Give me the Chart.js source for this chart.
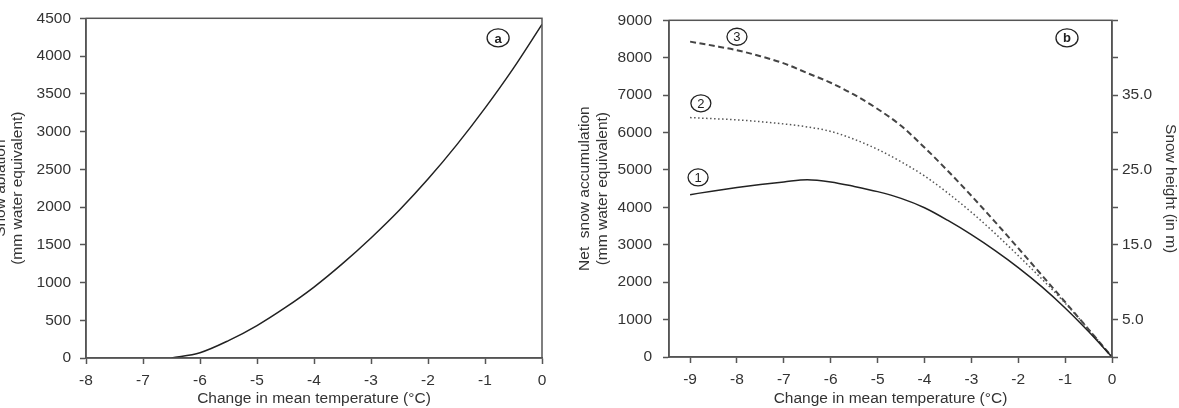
<!DOCTYPE html>
<html>
<head>
<meta charset="utf-8">
<title>Snow ablation and net snow accumulation</title>
<style>
    body { margin: 0; background: #fff; width: 1179px; height: 408px; overflow: hidden; position: relative; }
    #chartA { position: absolute; left: -8px; top: 0; }
    #chartB { position: absolute; left: 560px; top: 0; }
</style>
</head>
<body>
    <canvas id="chartA" width="568" height="408"></canvas>
    <canvas id="chartB" width="619" height="408"></canvas>

    <script src="https://cdn.jsdelivr.net/npm/chart.js@4.4.0/dist/chart.umd.min.js"></script>
    <script>
        // panel a - snow ablation
        const tempA = [-6.5, -6, -5.5, -5, -4.5, -4, -3.5, -3, -2.5, -2, -1.5, -1, -0.5, 0];
        const ablation = [0, 70, 230, 430, 670, 940, 1250, 1590, 1960, 2370, 2820, 3310, 3840, 4420];
        const xTicksA = [-8, -7, -6, -5, -4, -3, -2, -1, 0];

        // panel b - net snow accumulation, three cases
        const tempB = [-9, -8.5, -8, -7.5, -7, -6.5, -6, -5.5, -5, -4.5, -4, -3.5, -3, -2.5, -2, -1.5, -1, -0.5, 0];
        const accum1 = [4340, 4440, 4530, 4610, 4680, 4740, 4680, 4560, 4420, 4240, 3990, 3650, 3270, 2850, 2390, 1880, 1310, 680, 0];
        const accum2 = [6400, 6370, 6340, 6290, 6230, 6150, 6030, 5820, 5550, 5220, 4840, 4380, 3870, 3310, 2710, 2090, 1440, 740, 0];
        const accum3 = [8430, 8320, 8200, 8040, 7850, 7590, 7330, 7010, 6630, 6180, 5600, 4970, 4310, 3620, 2910, 2190, 1470, 740, 0];
        const xTicksB = [-9, -8, -7, -6, -5, -4, -3, -2, -1, 0];
        const heightTicks = [0, 5, 10, 15, 20, 25, 30, 35, 40, 45];
        const heightLabels = [5, 15, 25, 35];

        // circled markers: [x, y, text]
        const markersA = [[-0.77, 4240, 'a']];
        const markersB = [[-8.0, 8560, '3'], [-8.77, 6780, '2'], [-8.83, 4800, '1'], [-0.96, 8530, 'b']];

        const FONT = "'Liberation Sans', Arial, sans-serif";
        const GREY = '#555';
        const TXT = '#333';
        const FS = 15.5;

        function pts(xs, ys) {
            return xs.map((x, i) => ({ x: x, y: ys[i] }));
        }

        // box around the plot area
        const frame = {
            id: 'frame',
            afterDraw(chart) {
                const { ctx, chartArea: a } = chart;
                ctx.save();
                ctx.strokeStyle = GREY;
                ctx.lineWidth = 1.5;
                ctx.strokeRect(a.left, a.top, a.right - a.left, a.bottom - a.top);
                ctx.restore();
            }
        };

        const circleLabels = {
            id: 'circleLabels',
            afterDatasetsDraw(chart, args, opts) {
                const { ctx, scales } = chart;
                ctx.save();
                opts.items.forEach(m => {
                    const px = scales.x.getPixelForValue(m[0]);
                    const py = scales.y.getPixelForValue(m[1]);
                    const letter = isNaN(Number(m[2]));
                    ctx.beginPath();
                    ctx.ellipse(px, py, letter ? 11 : 10, letter ? 9 : 8.5, 0, 0, Math.PI * 2);
                    ctx.lineWidth = 1.3;
                    ctx.strokeStyle = '#222';
                    ctx.stroke();
                    ctx.fillStyle = '#222';
                    ctx.font = (letter ? 'bold 13px ' : '13px ') + FONT;
                    ctx.textAlign = 'center';
                    ctx.textBaseline = 'middle';
                    ctx.fillText(m[2], px, py + 1);
                });
                ctx.restore();
            }
        };

        function xAxis(min, max, ticks, h) {
            return {
                type: 'linear', min: min, max: max,
                afterBuildTicks: s => { s.ticks = ticks.map(v => ({ value: v })); },
                afterFit: s => { s.height = h; },
                border: { color: GREY, width: 1.5 },
                grid: { drawOnChartArea: false, drawTicks: true, tickLength: 6, tickColor: GREY, tickWidth: 1.5 },
                ticks: { color: TXT, padding: 7, maxRotation: 0, font: { family: FONT, size: FS }, callback: v => String(v) },
                title: {
                    display: true, text: 'Change in mean temperature (°C)', color: TXT,
                    padding: { top: 0, bottom: 0 }, font: { family: FONT, size: FS, lineHeight: 1.2 }
                }
            };
        }

        function yAxis(max, step, w, titleText, pad, tickPad) {
            return {
                type: 'linear', position: 'left', min: 0, max: max,
                afterFit: s => { s.width = w; },
                border: { color: GREY, width: 1.5 },
                grid: { drawOnChartArea: false, drawTicks: true, tickLength: 6, tickColor: GREY, tickWidth: 1.5 },
                ticks: { stepSize: step, color: TXT, padding: tickPad, font: { family: FONT, size: FS }, callback: v => String(v) },
                title: {
                    display: true, text: titleText, color: TXT,
                    padding: { top: pad, bottom: 0 }, font: { family: FONT, size: FS, lineHeight: 1.12 }
                }
            };
        }

        new Chart(document.getElementById('chartA').getContext('2d'), {
            type: 'line',
            data: {
                datasets: [{
                    data: pts(tempA, ablation),
                    borderColor: '#222', borderWidth: 1.5,
                    pointRadius: 0, cubicInterpolationMode: 'monotone', fill: false
                }]
            },
            options: {
                responsive: false, animation: false, devicePixelRatio: 1,
                layout: { padding: { left: 0, right: 18, top: 13, bottom: 0 } },
                scales: {
                    x: xAxis(-8, 0, xTicksA, 50),
                    y: yAxis(4500, 500, 94, ['Snow ablation', '(mm water equivalent)'], 0, 9)
                },
                plugins: {
                    legend: { display: false },
                    tooltip: { enabled: false },
                    circleLabels: { items: markersA }
                }
            },
            plugins: [frame, circleLabels]
        });

        new Chart(document.getElementById('chartB').getContext('2d'), {
            type: 'line',
            data: {
                datasets: [{
                    label: '1', data: pts(tempB, accum1),
                    borderColor: '#222', borderWidth: 1.5,
                    pointRadius: 0, cubicInterpolationMode: 'monotone', fill: false
                }, {
                    label: '2', data: pts(tempB, accum2),
                    borderColor: '#555', borderWidth: 1.5, borderDash: [1.5, 2.5],
                    pointRadius: 0, cubicInterpolationMode: 'monotone', fill: false
                }, {
                    label: '3', data: pts(tempB, accum3),
                    borderColor: '#444', borderWidth: 2, borderDash: [6, 3.5],
                    pointRadius: 0, cubicInterpolationMode: 'monotone', fill: false
                }]
            },
            options: {
                responsive: false, animation: false, devicePixelRatio: 1,
                layout: { padding: { left: 0, right: 0, top: 12.5, bottom: 0 } },
                scales: {
                    x: xAxis(-9.45, 0, xTicksB, 51),
                    y: yAxis(9000, 1000, 109, ['Net  snow accumulation', '(mm water equivalent)'], 16.5, 11),
                    y2: {
                        type: 'linear', position: 'right', display: true, min: 0, max: 45,
                        afterBuildTicks: s => { s.ticks = heightTicks.map(v => ({ value: v })); },
                        afterFit: s => { s.width = 67; },
                        border: { color: GREY, width: 1.5 },
                        grid: { drawOnChartArea: false, drawTicks: true, tickLength: 6, tickColor: GREY, tickWidth: 1.5 },
                        ticks: {
                            color: TXT, padding: 4, font: { family: FONT, size: FS },
                            callback: v => (heightLabels.includes(v) ? v.toFixed(1) : '')
                        },
                        title: {
                            display: true, text: 'Snow height (in m)', color: TXT,
                            padding: { top: 0, bottom: 0 }, font: { family: FONT, size: FS, lineHeight: 1.12 }
                        }
                    }
                },
                plugins: {
                    legend: { display: false },
                    tooltip: { enabled: false },
                    circleLabels: { items: markersB }
                }
            },
            plugins: [frame, circleLabels]
        });
    </script>
</body>
</html>
